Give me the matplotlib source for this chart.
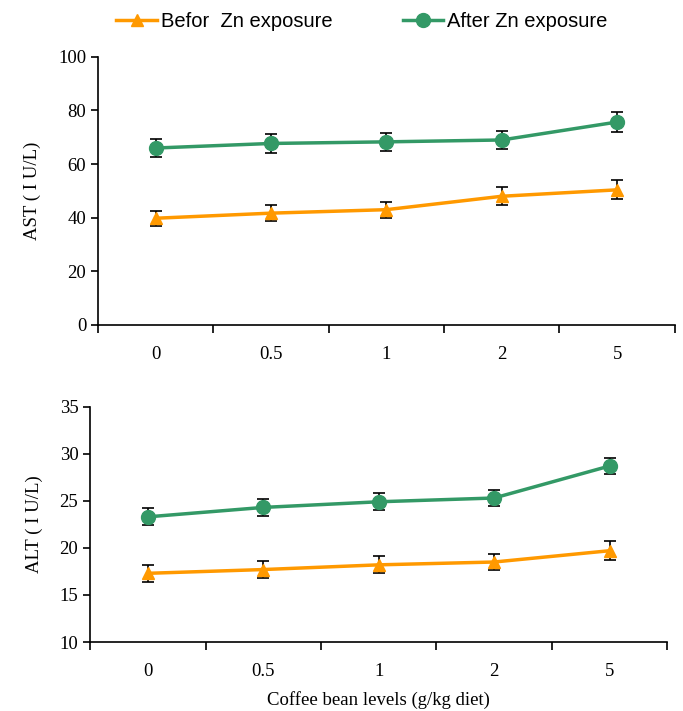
import matplotlib.pyplot as plt
from matplotlib.lines import Line2D
import numpy as np

levels = ["0", "0.5", "1", "2", "5"]

ast_before = [39.8, 41.7, 43.0, 48.0, 50.4]
ast_before_err = [2.8, 3.0, 3.0, 3.3, 3.5]
ast_after = [66.0, 67.7, 68.3, 69.0, 75.7]
ast_after_err = [3.4, 3.5, 3.4, 3.4, 3.8]

alt_before = [17.3, 17.7, 18.2, 18.5, 19.7]
alt_before_err = [0.9, 0.9, 0.9, 0.9, 1.0]
alt_after = [23.3, 24.3, 24.9, 25.3, 28.7]
alt_after_err = [0.9, 0.9, 0.9, 0.9, 0.9]

orange = "#FF9900"
green = "#339966"

plt.rcParams["font.family"] = ["Liberation Serif", "DejaVu Serif"]

fig = plt.figure(figsize=(6.83, 7.11), dpi=100)
ax1 = fig.add_axes([0.1435, 0.543, 0.8445, 0.377])
ax2 = fig.add_axes([0.132, 0.097, 0.845, 0.331])

x = np.arange(len(levels))


def draw(ax, before, before_err, after, after_err, ylim, step, ylabel):
    ax.errorbar(x, after, yerr=after_err, color=green, lw=2.5, marker="o", ms=10,
                ecolor="black", elinewidth=1.2, capsize=4, capthick=1.2, zorder=3)
    ax.errorbar(x, before, yerr=before_err, color=orange, lw=2.5, marker="^", ms=9,
                ecolor="black", elinewidth=1.2, capsize=4, capthick=1.2, zorder=3)
    ax.set_xlim(-0.5, len(levels) - 0.5)
    ax.set_ylim(*ylim)
    ax.set_yticks(np.arange(ylim[0], ylim[1] + 0.1, step))
    ax.set_xticks(np.arange(-0.5, len(levels), 1.0))
    ax.set_xticklabels([])
    ax.set_xticks(x, minor=True)
    ax.set_xticklabels(levels, minor=True)
    ax.tick_params(axis="x", which="minor", length=0, pad=15, labelsize=13.5)
    ax.tick_params(axis="x", which="major", direction="out", length=6, width=1.2)
    ax.tick_params(axis="y", direction="out", length=5, width=1.2, labelsize=13.5)
    ax.spines["top"].set_visible(False)
    ax.spines["right"].set_visible(False)
    for s in ("left", "bottom"):
        ax.spines[s].set_linewidth(1.2)
    ax.set_ylabel(ylabel, fontsize=13.5, labelpad=12)


draw(ax1, ast_before, ast_before_err, ast_after, ast_after_err, (0, 100), 20, "AST ( I U/L)")
draw(ax2, alt_before, alt_before_err, alt_after, alt_after_err, (10, 35), 5, "ALT ( I U/L)")
ax2.set_xlabel("Coffee bean levels (g/kg diet)", fontsize=13.5, labelpad=8)

handles = [
    Line2D([], [], color=orange, lw=2.5, marker="^", ms=9),
    Line2D([], [], color=green, lw=2.5, marker="o", ms=10),
]
fig.legend(handles, ["Befor  Zn exposure", "After Zn exposure"], loc="center",
           bbox_to_anchor=(0.53, 0.97), ncol=2, frameon=False,
           prop={"family": ["Liberation Sans", "DejaVu Sans"], "size": 14.5},
           handlelength=2.0, columnspacing=3.5, handletextpad=0.2)

fig.savefig("out.png", dpi=100)
